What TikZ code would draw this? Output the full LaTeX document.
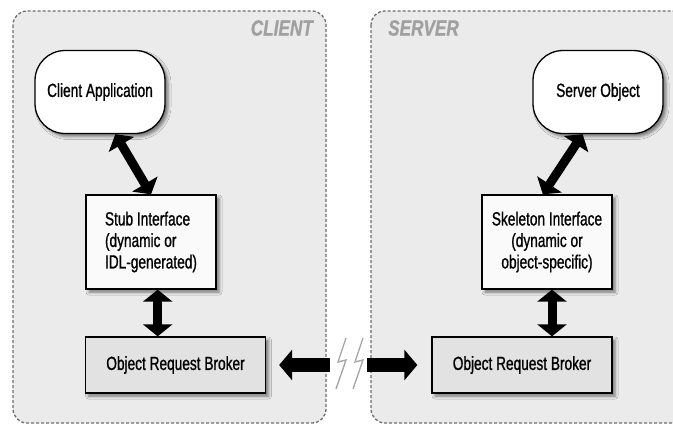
\documentclass[tikz,border=0pt]{standalone}
\usepackage{fontspec}
\setmainfont{Liberation Sans}[FakeStretch=0.72, FakeBold=0.9]
\newfontfamily\sidefont{Liberation Sans}[FakeStretch=0.78, FakeBold=0.8]
\usetikzlibrary{arrows.meta,shadows.blur}
\definecolor{panelgray}{HTML}{EBEBEB}
\definecolor{dashgray}{HTML}{6E6E6E}
\definecolor{labelgray}{HTML}{A0A0A0}
\definecolor{orbgray}{HTML}{E2E2E2}
\definecolor{boxwhite}{HTML}{FAFAFA}
\definecolor{boltgray}{HTML}{A8A8A8}
\tikzset{
  panel/.style={draw=dashgray, fill=panelgray, line width=1.3pt, dash pattern=on 3pt off 2pt, rounded corners=14pt},
  sidelabel/.style={text=labelgray, inner sep=0pt, font=\sidefont\bfseries\itshape\fontsize{22}{22}\selectfont},
  boxshadow/.style={blur shadow={shadow xshift=3pt, shadow yshift=-3pt, shadow blur radius=3pt, shadow opacity=50}},
  boxtext/.style={font=\fontsize{19}{21.5}\selectfont, inner sep=0pt},
  appbox/.style={boxtext, draw, line width=1.3pt, fill=white, rounded corners=30pt, minimum width=130pt, minimum height=83pt, boxshadow},
  ifacebox/.style={boxtext, draw, line width=1.3pt, fill=boxwhite, minimum width=130pt, minimum height=94pt, boxshadow},
  orbbox/.style={boxtext, draw, line width=1.3pt, fill=orbgray, minimum width=180pt, minimum height=56pt, boxshadow},
  link/.style={line width=9pt, {Triangle[length=12pt,width=29pt]}-{Triangle[length=12pt,width=29pt]}},
  wire/.style={line width=14pt},
  bolt/.style={draw=boltgray, line width=1.4pt, line join=miter}
}
\begin{document}
\begin{tikzpicture}[x=1pt, y=-1pt]
  \useasboundingbox (0,0) rectangle (673,426);
  \begin{scope}
    \clip (0,0) rectangle (673,426);
    % the two sides
    \draw[panel] (13,11) rectangle (326,423);
    \draw[panel] (371,11) rectangle (700,423);
  \end{scope}
  \node[sidelabel, anchor=east] (client) at (313,28) {CLIENT};
  \node[sidelabel, anchor=west] (server) at (388,28) {SERVER};

  \node[appbox] (capp) at (100,92) {Client Application};
  \node[appbox] (sobj) at (598,92) {Server Object};
  \node[ifacebox, align=left] (stub) at (151,242) {Stub Interface\\(dynamic or\\IDL-generated)};
  \node[ifacebox, align=center] (skel) at (547,242) {Skeleton Interface\\(dynamic or\\object-specific)};
  \node[orbbox] (orbL) at (175.5,365) {Object Request Broker};
  \node[orbbox] (orbR) at (522,365) {Object Request Broker};

  \draw[link] (capp.-70) -- (stub.north);
  \draw[link] (sobj.-110) -- (skel.95);
  \draw[link] (stub.-82) -- (stub.-82 |- orbL.north);
  \draw[link] (skel.-84) -- (skel.-84 |- orbR.north);

  % across the network
  \coordinate (gapL) at (330,365);
  \coordinate (gapR) at (367,365);
  \draw[wire, {Triangle[length=13pt,width=30pt]}-, shorten <=13pt] (orbL.east) -- (gapL);
  \draw[wire, -{Triangle[length=13pt,width=30pt]}, shorten >=14pt] (gapR) -- (orbR.west);
  \draw[bolt] (346,338) -- (338,362) -- (346,360) -- (336,389);
  \draw[bolt] (363,338) -- (355,362) -- (363,360) -- (353,389);
\end{tikzpicture}
\end{document}
